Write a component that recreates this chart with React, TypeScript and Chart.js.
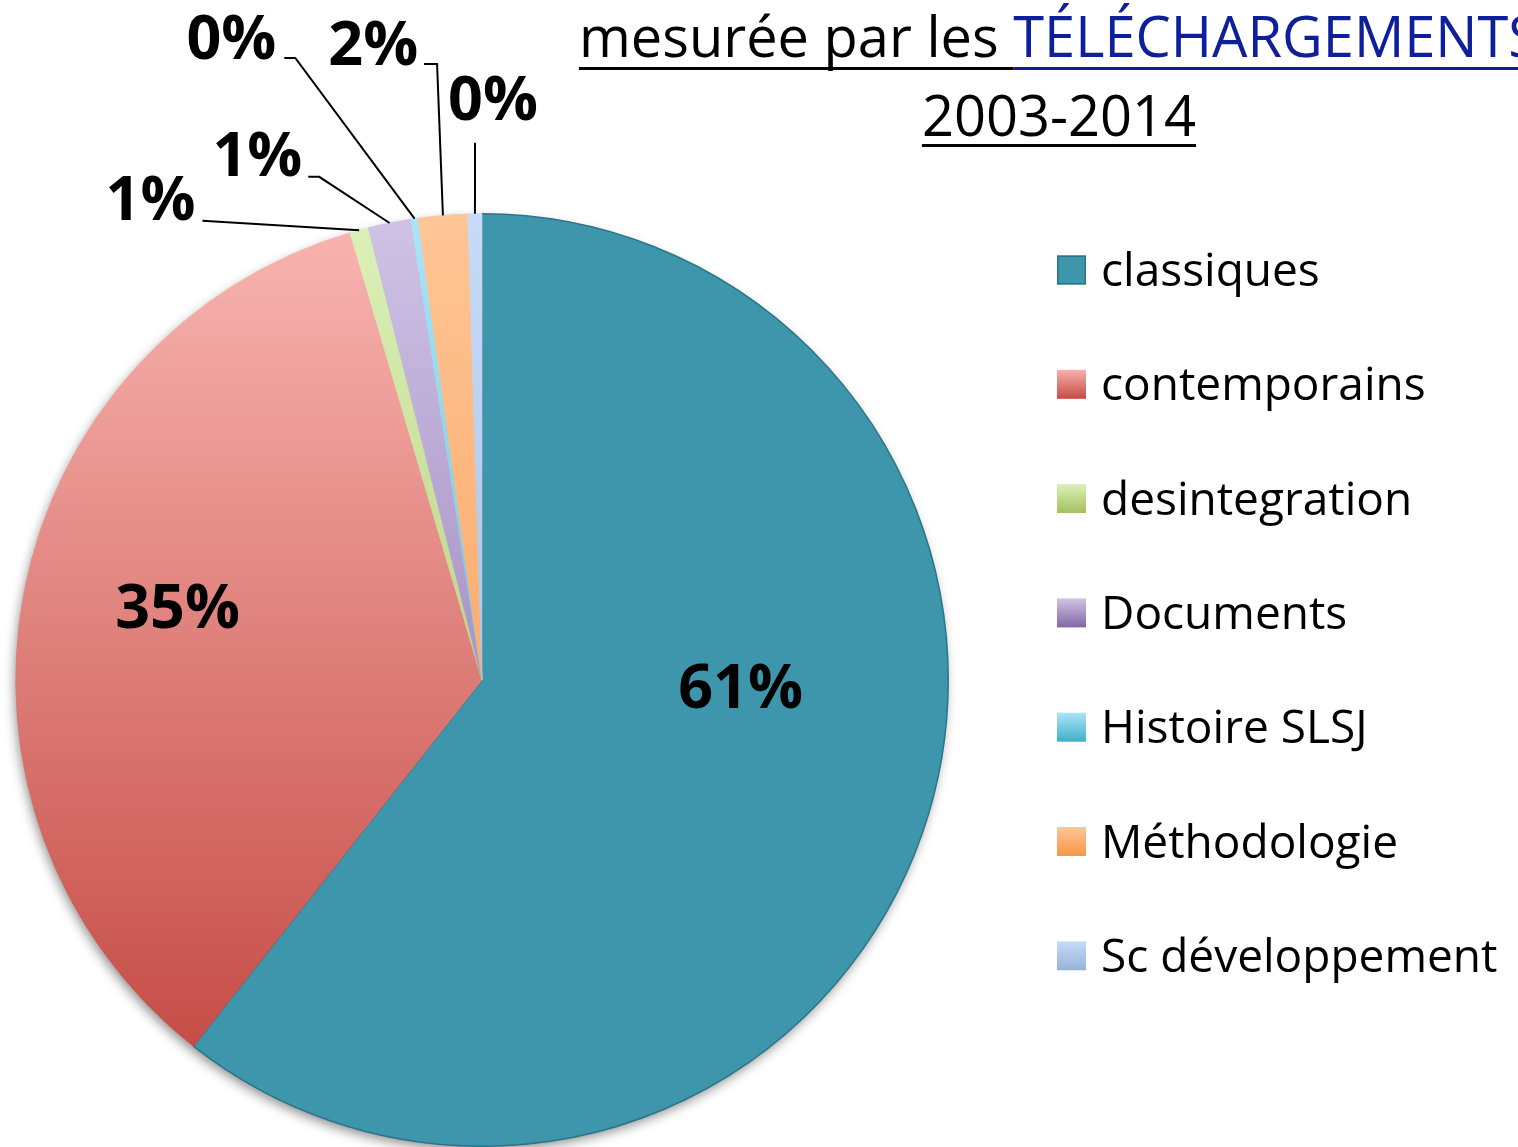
import { useEffect, useRef } from 'react';
import { Chart, registerables } from 'chart.js';

Chart.register(...registerables);

const categories = ['classiques', 'contemporains', 'desintegration', 'Documents', 'Histoire SLSJ', 'Méthodologie', 'Sc développement'];
const shares = [60.6, 34.8, 0.64, 1.49, 0.24, 1.71, 0.48];
const percentLabels = ['61%', '35%', '1%', '1%', '0%', '2%', '0%'];
const titleLine1a = 'mesurée par les ';
const titleLine1b = 'TÉLÉCHARGEMENTS';
const titleLine2 = '2003-2014';

const topColors = ['#3d96ab', '#f9b6b2', '#dcf1b8', '#cfc3e6', '#a9e5f8', '#fec596', '#c6dbf8'];
const bottomColors = ['#3d96ab', '#c0403a', '#9ebb5a', '#8062a3', '#40abc8', '#f79444', '#93b1d6'];
const legendTop = ['#3d96ab', '#f9b0ac', '#dcf1b8', '#cfc3e6', '#a9e5f8', '#fec596', '#c6dbf8'];
const legendBottom = ['#3d96ab', '#c84a43', '#a3bf5f', '#8466a5', '#42aecb', '#f79646', '#95b3d7'];

// label layout: offsets from pie centre (in px for a 467px radius)
const labelLayout: { x: number; y: number; leader?: number[][] }[] = [
  { x: 259, y: 6 },
  { x: -305, y: -74 },
  { x: -332, y: -483, leader: [[-280, -460]] },
  { x: -225, y: -527, leader: [[-174, -504], [-163, -504]] },
  { x: -251, y: -644, leader: [[-198, -623], [-187, -623]] },
  { x: -109, y: -638, leader: [[-58, -617], [-45, -617]] },
  { x: 11, y: -583, leader: [[-7, -538]] },
];

const FONT = '"Open Sans", "DejaVu Sans", sans-serif';

function gradientFor(chart: any, i: number) {
  const area = chart.chartArea;
  if (!area) return topColors[i];
  const g = chart.ctx.createLinearGradient(0, area.top, 0, area.bottom);
  g.addColorStop(0, topColors[i]);
  g.addColorStop(1, bottomColors[i]);
  return g;
}

const customPlugin = {
  id: 'customDraw',
  beforeDatasetsDraw(chart: any) {
    const meta = chart.getDatasetMeta(0);
    const a = meta.data[0];
    if (!a) return;
    const { x, y, outerRadius } = a.getProps(['x', 'y', 'outerRadius'], true);
    const ctx = chart.ctx;
    ctx.save();
    ctx.shadowColor = 'rgba(0,0,0,0.45)';
    ctx.shadowBlur = 12;
    ctx.shadowOffsetX = -2;
    ctx.shadowOffsetY = 5;
    ctx.beginPath();
    ctx.arc(x, y, outerRadius - 1, 0, Math.PI * 2);
    ctx.fillStyle = '#ffffff';
    ctx.fill();
    ctx.restore();
  },
  afterDatasetsDraw(chart: any) {
    const meta = chart.getDatasetMeta(0);
    const ctx = chart.ctx;
    ctx.save();
    meta.data.forEach((arc: any, i: number) => {
      const { x, y, outerRadius, startAngle, endAngle } = arc.getProps(['x', 'y', 'outerRadius', 'startAngle', 'endAngle'], true);
      const s = outerRadius / 467;
      const lay = labelLayout[i];
      const lx = x + lay.x * s;
      const ly = y + lay.y * s;
      if (lay.leader) {
        const mid = (startAngle + endAngle) / 2;
        const ex = x + Math.cos(mid) * outerRadius;
        const ey = y + Math.sin(mid) * outerRadius;
        ctx.beginPath();
        ctx.strokeStyle = '#000000';
        ctx.lineWidth = 2;
        lay.leader.forEach((p, k) => {
          const px = x + p[0] * s;
          const py = y + p[1] * s;
          if (k === 0) ctx.moveTo(px, py);
          else ctx.lineTo(px, py);
        });
        ctx.lineTo(ex, ey);
        ctx.stroke();
      }
      ctx.fillStyle = '#000000';
      ctx.font = `bold 61px ${FONT}`;
      ctx.textAlign = 'center';
      ctx.textBaseline = 'alphabetic';
      ctx.fillText(percentLabels[i], lx, ly + 22);
    });
    ctx.restore();
  },
  afterDraw(chart: any) {
    const ctx = chart.ctx;
    ctx.save();
    // Title
    const cx = 1059;
    ctx.font = `56px ${FONT}`;
    ctx.textBaseline = 'alphabetic';
    ctx.textAlign = 'left';
    const wa = ctx.measureText(titleLine1a).width;
    const wb = ctx.measureText(titleLine1b).width;
    const startX = cx - (wa + wb) / 2;
    ctx.fillStyle = '#000000';
    ctx.fillText(titleLine1a, startX, 57);
    ctx.fillRect(startX, 67, wa, 3);
    ctx.fillStyle = '#0d1f9a';
    ctx.fillText(titleLine1b, startX + wa, 57);
    ctx.fillRect(startX + wa, 67, wb, 3);
    ctx.fillStyle = '#000000';
    const w2 = ctx.measureText(titleLine2).width;
    ctx.fillText(titleLine2, cx - w2 / 2, 136);
    ctx.fillRect(cx - w2 / 2, 144, w2, 3);

    // Legend
    ctx.font = `46px ${FONT}`;
    categories.forEach((c, i) => {
      const cy = 270 + i * 114.3;
      const bx = 1057;
      const by = cy - 14.5;
      const g = ctx.createLinearGradient(0, by, 0, by + 29);
      g.addColorStop(0, legendTop[i]);
      g.addColorStop(1, legendBottom[i]);
      ctx.fillStyle = g;
      ctx.fillRect(bx, by, 29, 29);
      if (i === 0) {
        ctx.strokeStyle = '#2c7587';
        ctx.lineWidth = 1.5;
        ctx.strokeRect(bx + 0.75, by + 0.75, 27.5, 27.5);
      }
      ctx.fillStyle = '#000000';
      ctx.fillText(c, 1101, cy + 16);
    });
    ctx.restore();
  },
};

export default function App() {
  const ref = useRef<HTMLCanvasElement | null>(null);
  useEffect(() => {
    if (!ref.current) return;
    const chart = new Chart(ref.current, {
      type: 'pie',
      data: {
        labels: categories,
        datasets: [
          {
            data: shares,
            backgroundColor: (c: any) => gradientFor(c.chart, c.dataIndex),
            borderColor: (c: any) => (c.dataIndex === 0 ? '#2c7587' : gradientFor(c.chart, c.dataIndex)),
            borderWidth: (c: any) => (c.dataIndex === 0 ? 1.5 : 0.8),
          },
        ],
      },
      options: {
        responsive: false,
        animation: false,
        layout: { padding: { left: 15, top: 213, right: 569, bottom: 0 } },
        plugins: {
          legend: { display: false },
          tooltip: { enabled: false },
          title: { display: false },
        },
      },
      plugins: [customPlugin],
    });
    return () => chart.destroy();
  }, []);
  return (
    <div style={{ position: 'fixed', left: 0, top: 0, width: 1518, height: 1147, background: '#ffffff' }}>
      <canvas ref={ref} width={1518} height={1147} style={{ width: 1518, height: 1147, display: 'block' }} />
    </div>
  );
}
